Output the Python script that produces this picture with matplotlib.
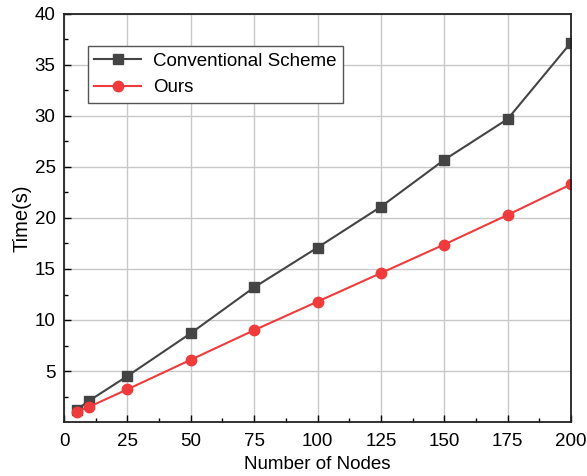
import numpy as np
import matplotlib.pyplot as plt

plt.rcParams['font.family'] = ['Liberation Sans', 'DejaVu Sans']

nodes = [5, 10, 25, 50, 75, 100, 125, 150, 175, 200]
conventional = [1.2, 2.1, 4.5, 8.7, 13.2, 17.1, 21.1, 25.7, 29.7, 37.2]
ours = [1.0, 1.5, 3.2, 6.1, 9.0, 11.8, 14.6, 17.4, 20.3, 23.3]

fig = plt.figure(figsize=(5.87, 4.76), dpi=100)
ax = fig.add_axes([64/587, 1 - 422/476, (571-64)/587, (422-14)/476])

ax.plot(nodes, conventional, color='#444444', marker='s', markersize=6.5, linewidth=1.5,
        label='Conventional Scheme')
ax.plot(nodes, ours, color='#ef3b3b', marker='o', markersize=7.5, linewidth=1.5,
        label='Ours')

ax.set_xlim(0, 200)
ax.set_ylim(0, 40)
ax.set_xticks(np.arange(0, 201, 25))
ax.set_yticks(np.arange(5, 41, 5))
ax.set_xticks(np.arange(12.5, 200, 25), minor=True)
ax.set_yticks(np.arange(2.5, 40, 5), minor=True)
ax.tick_params(which='both', direction='in', top=False, right=False, labelsize=13.5)
ax.tick_params(which='major', length=5, width=1)
ax.tick_params(which='minor', length=3, width=1)
ax.tick_params(axis='x', pad=8)
ax.tick_params(axis='y', pad=6)
ax.grid(True, which='major', color='#c8c8c8', linewidth=1)
ax.set_axisbelow(True)
for s in ax.spines.values():
    s.set_linewidth(1.3)
    s.set_color('#222222')

ax.set_xlabel('Number of Nodes', fontsize=13.5, labelpad=4)
ax.set_ylabel('Time(s)', fontsize=14.5, labelpad=2)

leg = ax.legend(loc='upper left', bbox_to_anchor=(0.047, 0.9216), fontsize=13.5,
                fancybox=False, framealpha=1, edgecolor='#555555',
                handlelength=2.5, handletextpad=0.64, borderpad=0.35,
                labelspacing=0.5, borderaxespad=0)
leg.get_frame().set_linewidth(1)

fig.savefig('out.png', dpi=100)
